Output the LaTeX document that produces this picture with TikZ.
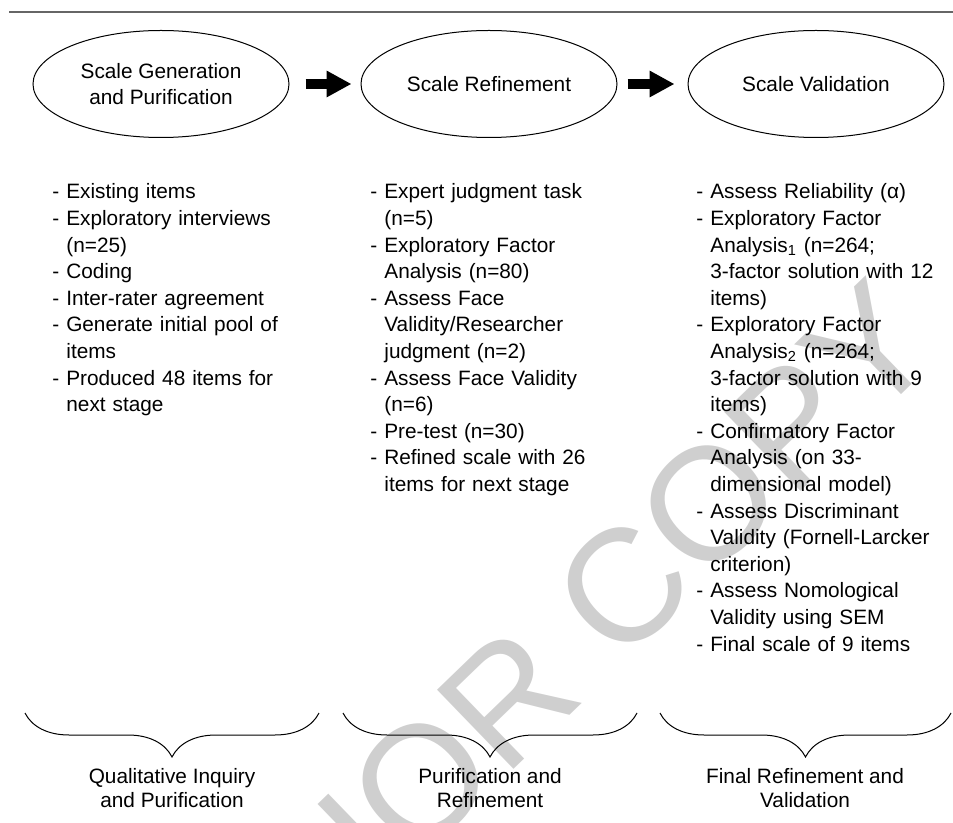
\documentclass[tikz,border=0pt]{standalone}
\usepackage{fontspec}
\setmainfont{Liberation Sans}
\usetikzlibrary{arrows.meta,shapes.geometric,decorations.pathreplacing}

\newcommand{\stageitem}[1]{\par\noindent\hangindent=7pt\hangafter=1 -\ #1}

\begin{document}
\begin{tikzpicture}[x=0.5pt,y=-0.5pt]
\tikzset{
  stagenode/.style={ellipse,draw=black,line width=0.5pt,minimum width=128pt,minimum height=53.5pt,inner sep=0pt,align=center,font=\fontsize{10.4}{13}\selectfont},
  stagearrow/.style={draw=black,line width=5pt,-{Triangle[length=12.5pt,width=12.5pt]}},
  itemlist/.style={anchor=north west,inner sep=0pt,text width=140pt,align=left,font=\fontsize{10.4}{13.3}\selectfont},
  phasebrace/.style={draw=black,line width=0.5pt,decorate,decoration={brace,mirror,amplitude=22pt}},
  phaselabel/.style={align=center,inner sep=0pt,font=\fontsize{10.4}{12.2}\selectfont},
  toprule/.style={draw=black!60,line width=0.6pt},
  watermark/.style={text=black!19,rotate=44,inner sep=0pt,font=\fontsize{80}{80}\selectfont}
}
\useasboundingbox (0,0) rectangle (953,823);
\clip (0,0) rectangle (953,823);
% watermark behind everything
\node[watermark] (w_copy) at (485,720) {AUTHOR COPY};
% rule at the top
\coordinate (rule_l) at (9,12);
\coordinate (rule_r) at (953,12);
\draw[toprule] (rule_l) -- (rule_r);
% the three stages
\node[stagenode] (e_gen) at (161,84) {Scale Generation\\and Purification};
\node[stagenode] (e_ref) at (489,84) {Scale Refinement};
\node[stagenode] (e_val) at (816,84) {Scale Validation};
\draw[stagearrow,shorten <=8pt,shorten >=4.5pt] (e_gen) -- (e_ref);
\draw[stagearrow,shorten <=5pt,shorten >=6.5pt] (e_ref) -- (e_val);
% steps of each stage
\node[itemlist] (l_gen) at (52,172) {%
\stageitem{Existing items}
\stageitem{Exploratory interviews\newline(n=25)}
\stageitem{Coding}
\stageitem{Inter-rater agreement}
\stageitem{Generate initial pool of\newline items}
\stageitem{Produced 48 items for\newline next stage}\par};
\node[itemlist] (l_ref) at (370,172) {%
\stageitem{Expert judgment task\newline(n=5)}
\stageitem{Exploratory Factor\newline Analysis (n=80)}
\stageitem{Assess Face\newline Validity/Researcher\newline judgment (n=2)}
\stageitem{Assess Face Validity\newline(n=6)}
\stageitem{Pre-test (n=30)}
\stageitem{Refined scale with 26\newline items for next stage}\par};
\node[itemlist] (l_val) at (696,172) {%
\stageitem{Assess Reliability (α)}
\stageitem{Exploratory Factor\newline Analysis\textsubscript{1} (n=264;\newline 3-factor solution with 12\newline items)}
\stageitem{Exploratory Factor\newline Analysis\textsubscript{2} (n=264;\newline 3-factor solution with 9\newline items)}
\stageitem{Confirmatory Factor\newline Analysis (on 33-\newline dimensional model)}
\stageitem{Assess Discriminant\newline Validity (Fornell-Larcker\newline criterion)}
\stageitem{Assess Nomological\newline Validity using SEM}
\stageitem{Final scale of 9 items}\par};
% braces and phase names
\coordinate (b_gen_l) at (25,713);
\coordinate (b_gen_r) at (319,713);
\coordinate (b_ref_l) at (343,713);
\coordinate (b_ref_r) at (637,713);
\coordinate (b_val_l) at (660,713);
\coordinate (b_val_r) at (951,713);
\draw[phasebrace] (b_gen_l) -- (b_gen_r);
\draw[phasebrace] (b_ref_l) -- (b_ref_r);
\draw[phasebrace] (b_val_l) -- (b_val_r);
\node[phaselabel] (t_qual) at (172,788) {Qualitative Inquiry\\and Purification};
\node[phaselabel] (t_pur) at (490,788) {Purification and\\Refinement};
\node[phaselabel] (t_fin) at (805,788) {Final Refinement and\\Validation};
\end{tikzpicture}
\end{document}
